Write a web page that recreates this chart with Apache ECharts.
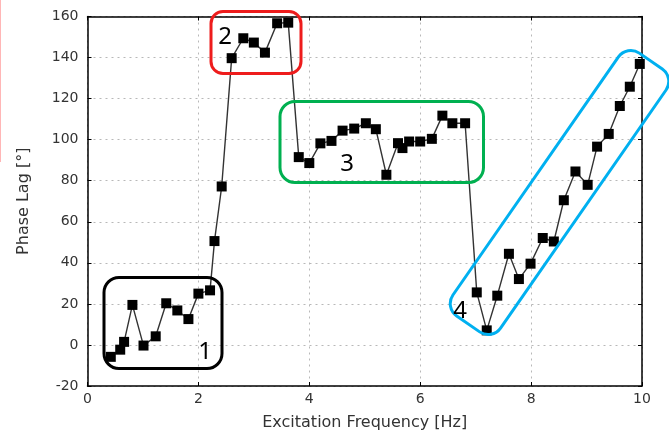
<!DOCTYPE html>
<html>
<head>
<meta charset="utf-8">
<script src="https://cdn.jsdelivr.net/npm/echarts@6/dist/echarts.min.js"></script>
<style>
html,body{margin:0;padding:0;background:#fff;}
#chart{width:669px;height:439px;}
</style>
</head>
<body>
<div id="chart"></div>
<script>
// Excitation frequency [Hz]
var freq = [0.42,0.59,0.66,0.81,1.01,1.23,1.42,1.62,1.82,2.0,
            2.21,2.29,2.42,2.6,2.81,3.0,3.2,3.42,3.62,3.81,
            4.0,4.2,4.4,4.6,4.81,5.02,5.2,5.39,5.6,5.68,
            5.8,6.0,6.21,6.4,6.58,6.81,7.02,7.2,7.39,7.6,
            7.78,7.99,8.21,8.41,8.59,8.8,9.02,9.19,9.4,9.6,
            9.78,9.96];
// Phase lag [deg]
var lag = [-5.8,-2.3,1.5,19.5,-0.3,4.2,20.3,16.8,12.6,25,
           26.6,50.6,77.2,139.7,149.4,147.3,142.4,156.7,157,91.5,
           88.6,98.2,99.4,104.4,105.4,108,105.1,82.9,98.3,95.9,
           99.1,99.1,100.4,111.7,108,108,25.6,7.1,24,44.4,
           32.1,39.6,52.1,50.4,70.5,84.5,78,96.6,102.8,116.4,
           125.8,136.9];
var xTicks = [0,2,4,6,8,10];
var yTicks = [-20,0,20,40,60,80,100,120,140,160];
var boxLabels = ['1','2','3','4'];

var points = freq.map(function(f,i){return [f, lag[i]];});
var font = '"DejaVu Sans", sans-serif';
var axisLine = {show:true, onZero:false, lineStyle:{color:'#000', width:1.5}};
var gridLine = {show:true, lineStyle:{color:'#b8b8b8', type:[2,4], width:1}};
var tickIn = {show:true, inside:true, length:4, lineStyle:{color:'#000', width:1}};

var chart = echarts.init(document.getElementById('chart'));
var labelFont = {fontFamily:'"Noto Sans", "Open Sans", sans-serif', fontSize:24, fill:'#000'};
chart.setOption({
  animation:false,
  backgroundColor:'#fff',
  grid:{left:87.5, right:27, top:16.5, bottom:53, containLabel:false},
  xAxis:[{
    type:'value', min:xTicks[0], max:xTicks[xTicks.length-1], interval:2,
    name:'Excitation Frequency [Hz]', nameLocation:'middle', nameGap:29,
    nameTextStyle:{fontFamily:font, fontSize:16, color:'#333'},
    axisLine:axisLine, axisTick:tickIn, splitLine:gridLine,
    axisLabel:{fontFamily:font, fontSize:14, color:'#333', margin:6}
  },{
    type:'value', position:'top', min:xTicks[0], max:xTicks[xTicks.length-1], interval:2,
    axisLine:axisLine, axisTick:tickIn, splitLine:{show:false}, axisLabel:{show:false}
  }],
  yAxis:[{
    type:'value', min:yTicks[0], max:yTicks[yTicks.length-1], interval:20,
    name:'Phase Lag [°]', nameLocation:'middle', nameGap:56,
    nameTextStyle:{fontFamily:font, fontSize:16, color:'#333'},
    axisLine:axisLine, axisTick:tickIn, splitLine:gridLine,
    axisLabel:{fontFamily:font, fontSize:14, color:'#333', margin:9}
  },{
    type:'value', position:'right', min:yTicks[0], max:yTicks[yTicks.length-1], interval:20,
    axisLine:axisLine, axisTick:tickIn, splitLine:{show:false}, axisLabel:{show:false}
  }],
  series:[{
    type:'line', data:points, clip:false,
    symbol:'rect', symbolSize:10,
    itemStyle:{color:'#000'},
    lineStyle:{color:'#333', width:1.4}
  }],
  graphic:[
    {type:'line', shape:{x1:0.5,y1:0,x2:0.5,y2:162}, style:{stroke:'#ffb6b6', lineWidth:1}},
    {type:'rect', shape:{x:104, y:277.5, width:118, height:91, r:15}, style:{fill:'none', stroke:'#000', lineWidth:3}, z:100},
    {type:'text', x:205, y:352, style:Object.assign({text:boxLabels[0], align:'center', verticalAlign:'middle'}, labelFont), z:100},
    {type:'rect', shape:{x:211, y:11.5, width:90, height:62, r:12}, style:{fill:'none', stroke:'#ee1c1c', lineWidth:3}, z:100},
    {type:'text', x:225, y:37, style:Object.assign({text:boxLabels[1], align:'center', verticalAlign:'middle'}, labelFont), z:100},
    {type:'rect', shape:{x:280, y:101.5, width:203.5, height:81, r:15}, style:{fill:'none', stroke:'#00b050', lineWidth:3}, z:100},
    {type:'text', x:347, y:164, style:Object.assign({text:boxLabels[2], align:'center', verticalAlign:'middle'}, labelFont), z:100},
    {type:'rect', x:559.5, y:192.5, rotation:55.2*Math.PI/180,
     shape:{x:-160, y:-29, width:320, height:58, r:15}, style:{fill:'none', stroke:'#00b0f0', lineWidth:3}, z:100},
    {type:'text', x:460, y:311, style:Object.assign({text:boxLabels[3], align:'center', verticalAlign:'middle'}, labelFont), z:100}
  ]
});
</script>
</body>
</html>
